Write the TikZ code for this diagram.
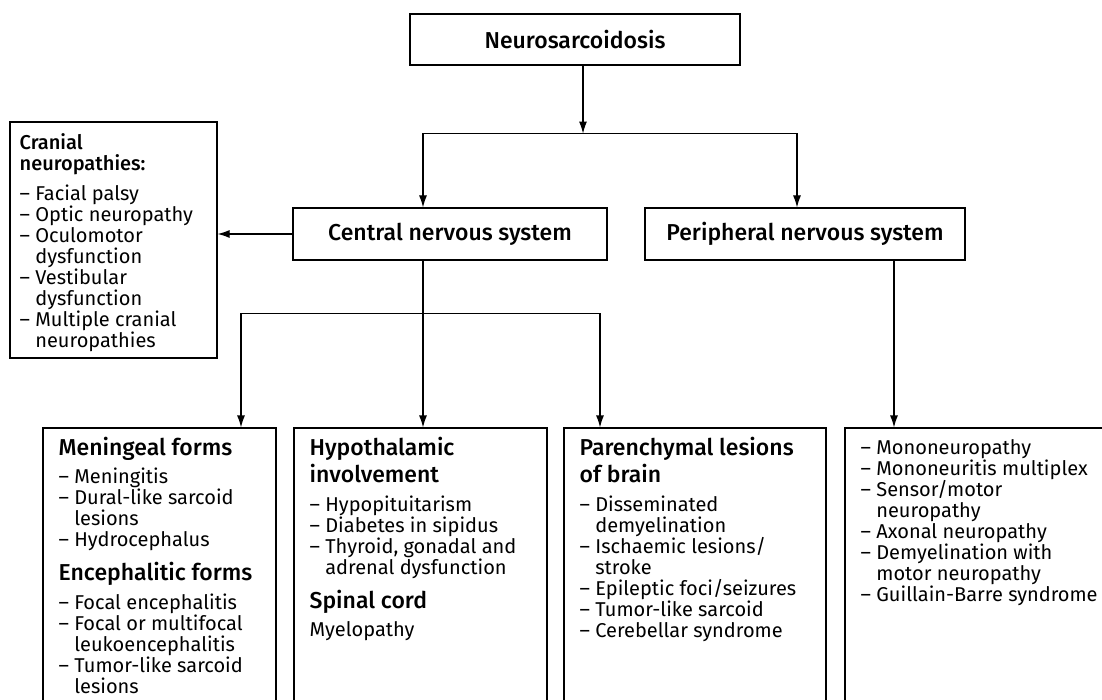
\documentclass[tikz,border=0pt]{standalone}
\usepackage{fontspec}
\setmainfont{Fira Sans}[BoldFont={Fira Sans Medium}]
\usetikzlibrary{arrows.meta}

\newcommand{\itm}{\textendash\ }
\newcommand{\ind}{\hphantom{\textendash\ }}
\newcommand{\hd}{\fontsize{23}{24}\selectfont\bfseries}

\begin{document}
\begin{tikzpicture}[x=1pt, y=-1pt, >={Latex[length=12pt, width=8pt]},
  font=\fontsize{20}{21}\selectfont,
  blk/.style={draw, line width=1.1pt, inner sep=0pt, font=\fontsize{23}{24}\selectfont\bfseries},
  frm/.style={draw, line width=1.1pt, inner sep=0pt},
  txt/.style={anchor=north west, inner sep=0pt, align=left},
  con/.style={->, line width=1.1pt}]
\useasboundingbox (0,0) rectangle (1102,700);
% --- top level: disease and the two systems ---
\node[blk, minimum width=330, minimum height=51] (neuro) at (575,39.5) {Neurosarcoidosis};
\node[blk, minimum width=314, minimum height=52] (cns) at (450,234) {Central nervous system};
\node[blk, minimum width=320, minimum height=52] (pns) at (805,234) {Peripheral nervous system};
% --- frames (bottom ones run off the page) ---
\node[frm, minimum width=207, minimum height=236] (cran) at (113.5,240) {};
\node[frm, minimum width=233, minimum height=292] (men) at (159.5,574) {};
\node[frm, minimum width=253, minimum height=292] (hypo) at (420.5,574) {};
\node[frm, minimum width=262, minimum height=292] (par) at (695,574) {};
\node[frm, minimum width=265, minimum height=292] (pnl) at (977.5,574) {};
% --- connectors ---
\draw[con] ([xshift=8]neuro.south) -- ++(0,68) coordinate (split1);
\draw[con] (split1) -| ([xshift=-27]cns.north);
\draw[con] (split1) -| ([xshift=-8]pns.north);
\draw[con] (cns.west) -- (cns.west -| cran.east);
\draw[con] ([xshift=-27]cns.south) -- ([xshift=-27]cns.south |- hypo.north);
\coordinate (split2) at ([xshift=-27, yshift=-53]cns.south);
\draw[con] (split2) -| ([xshift=81.5]men.north);
\draw[con] (split2) -| ([xshift=-95]par.north);
\draw[con] ([xshift=89]pns.south) -- ([xshift=89]pns.south |- pnl.north);
% --- texts ---
\node[txt] (crantxt) at ([xshift=10, yshift=-12]cran.north west)
 {{\bfseries Cranial}\\
  {\bfseries neuropathies:}\\[9pt]
  \itm Facial palsy\\
  \itm Optic neuropathy\\
  \itm Oculomotor\\
  \ind dysfunction\\
  \itm Vestibular\\
  \ind dysfunction\\
  \itm Multiple cranial\\
  \ind neuropathies};
\node[txt] (mentxt) at ([xshift=16, yshift=-10]men.north west)
 {{\hd Meningeal forms}\\[7pt]
  \itm Meningitis\\
  \itm Dural-like sarcoid\\
  \ind lesions\\
  \itm Hydrocephalus\\[10pt]
  {\hd Encephalitic forms}\\[8pt]
  \itm Focal encephalitis\\
  \itm Focal or multifocal\\
  \ind leukoencephalitis\\
  \itm Tumor-like sarcoid\\
  \ind lesions};
\node[txt] (hypotxt) at ([xshift=16, yshift=-10]hypo.north west)
 {{\hd Hypothalamic}\\[2pt]
  {\hd involvement}\\[8pt]
  \itm Hypopituitarism\\
  \itm Diabetes in sipidus\\
  \itm Thyroid, gonadal and\\
  \ind adrenal dysfunction\\[11pt]
  {\hd Spinal cord}\\[7pt]
  Myelopathy};
\node[txt] (partxt) at ([xshift=16, yshift=-10]par.north west)
 {{\hd Parenchymal lesions}\\[2pt]
  {\hd of brain}\\[8pt]
  \itm Disseminated\\
  \ind demyelination\\
  \itm Ischaemic lesions/\\
  \ind stroke\\
  \itm Epileptic foci/seizures\\
  \itm Tumor-like sarcoid\\
  \itm Cerebellar syndrome};
\node[txt] (pnltxt) at ([xshift=16, yshift=-12]pnl.north west)
 {\itm Mononeuropathy\\
  \itm Mononeuritis multiplex\\
  \itm Sensor/motor\\
  \ind neuropathy\\
  \itm Axonal neuropathy\\
  \itm Demyelination with\\
  \ind motor neuropathy\\
  \itm Guillain-Barre syndrome};
\end{tikzpicture}
\end{document}
